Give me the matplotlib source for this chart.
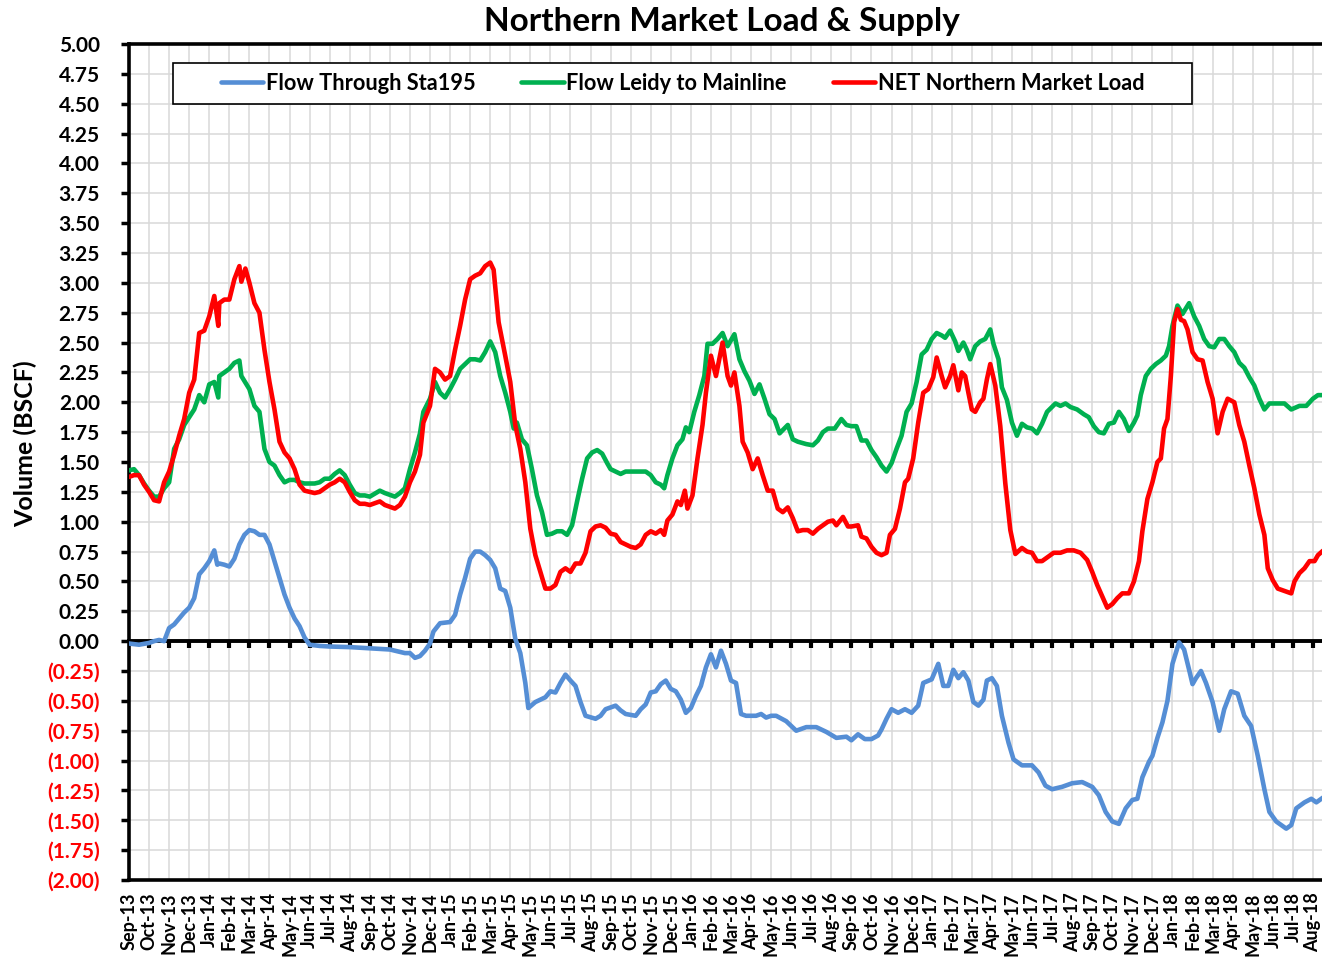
import matplotlib
matplotlib.use("Agg")
import matplotlib.pyplot as plt
from matplotlib.patches import Rectangle
import pandas as pd

FONT = "Lato"
plt.rcParams["font.family"] = [FONT, "DejaVu Sans"]
plt.rcParams["font.weight"] = "bold"

# Month axis: 0 = Sep-2013, one unit per month
month_labels = list(pd.date_range("2013-09-01", periods=60, freq="MS").strftime("%b-%y"))

# Flow Through Sta195 (BSCF)
sta195_m = [0, 0.5, 1, 1.25, 1.5, 1.75, 2, 2.25, 2.5, 2.75, 3, 3.25, 3.5, 3.75, 4, 4.25, 4.4, 4.5, 4.75, 5,
            5.25, 5.5, 5.75, 6, 6.25, 6.5, 6.75, 7, 7.25, 7.5, 7.75, 8, 8.25, 8.5, 8.75, 9, 9.5, 10, 11, 12,
            13, 13.25, 13.75, 14, 14.25, 14.5, 14.75, 15, 15.17, 15.5, 16, 16.25, 16.5, 16.75, 17, 17.25, 17.5,
            17.75, 18, 18.25, 18.5, 18.75, 19, 19.25, 19.5, 19.75, 19.9, 20.25, 20.75, 21, 21.25, 21.5, 21.75,
            22, 22.25, 22.5, 22.75, 23.25, 23.5, 23.75, 24.25, 24.5, 24.75, 25.25, 25.5, 25.75, 26, 26.25, 26.5,
            26.75, 27, 27.25, 27.5, 27.75, 28, 28.25, 28.5, 28.75, 29, 29.25, 29.5, 29.75, 30, 30.25, 30.5,
            30.75, 31.25, 31.5, 31.75, 32, 32.25, 32.75, 33.25, 33.75, 34.25, 34.75, 35.25, 35.75, 36, 36.33,
            36.67, 37, 37.33, 37.5, 37.75, 38, 38.33, 38.67, 39, 39.33, 39.58, 40, 40.33, 40.58, 40.83, 41.08,
            41.33, 41.58, 41.83, 42.08, 42.33, 42.58, 42.75, 43, 43.25, 43.5, 43.83, 44.08, 44.5, 45, 45.33,
            45.67, 46, 46.5, 47, 47.5, 48, 48.33, 48.67, 49, 49.33, 49.67, 50, 50.25, 50.5, 50.83, 51, 51.25,
            51.5, 51.75, 52, 52.33, 52.58, 52.83, 53, 53.17, 53.42, 53.67, 54, 54.33, 54.58, 54.92, 55.25,
            55.58, 55.92, 56.25, 56.58, 56.83, 57.17, 57.67, 57.92, 58.17, 58.58, 58.92, 59.17, 59.5]
sta195_v = [-0.02, -0.03, -0.015, 0.0, 0.01, 0.0, 0.11, 0.14, 0.19, 0.24, 0.28, 0.36, 0.56, 0.61, 0.67, 0.76,
            0.64, 0.65, 0.64, 0.625, 0.69, 0.81, 0.89, 0.93, 0.92, 0.89, 0.89, 0.81, 0.67, 0.53, 0.39, 0.28,
            0.19, 0.125, 0.03, -0.03, -0.04, -0.045, -0.05, -0.06, -0.07, -0.08, -0.10, -0.10, -0.14, -0.125,
            -0.08, -0.02, 0.08, 0.15, 0.16, 0.22, 0.39, 0.53, 0.69, 0.75, 0.75, 0.72, 0.68, 0.61, 0.44, 0.42,
            0.28, 0.02, -0.10, -0.35, -0.56, -0.51, -0.47, -0.42, -0.43, -0.35, -0.28, -0.33, -0.375, -0.51,
            -0.625, -0.65, -0.625, -0.57, -0.54, -0.58, -0.61, -0.625, -0.57, -0.53, -0.43, -0.42, -0.36,
            -0.33, -0.40, -0.42, -0.49, -0.60, -0.56, -0.46, -0.375, -0.22, -0.11, -0.22, -0.08, -0.19, -0.33,
            -0.35, -0.61, -0.625, -0.625, -0.61, -0.64, -0.625, -0.625, -0.67, -0.75, -0.72, -0.72, -0.76,
            -0.81, -0.80, -0.83, -0.78, -0.82, -0.82, -0.79, -0.74, -0.65, -0.57, -0.60, -0.57, -0.60, -0.54,
            -0.35, -0.32, -0.19, -0.375, -0.375, -0.24, -0.31, -0.26, -0.33, -0.51, -0.54, -0.49, -0.33,
            -0.31, -0.375, -0.625, -0.85, -0.99, -1.04, -1.04, -1.10, -1.21, -1.24, -1.22, -1.19, -1.18,
            -1.22, -1.29, -1.43, -1.51, -1.53, -1.40, -1.33, -1.32, -1.14, -1.01, -0.96, -0.81, -0.68, -0.50,
            -0.19, -0.01, -0.07, -0.24, -0.36, -0.31, -0.25, -0.35, -0.51, -0.75, -0.57, -0.42, -0.44, -0.625,
            -0.71, -0.96, -1.24, -1.43, -1.51, -1.57, -1.54, -1.40, -1.35, -1.32, -1.35, -1.31]

# Flow Leidy to Mainline (BSCF)
leidy_m = [0, 0.25, 0.5, 0.75, 1, 1.25, 1.5, 1.75, 2, 2.25, 2.5, 2.75, 3, 3.25, 3.5, 3.75, 4, 4.25, 4.45, 4.5,
           4.75, 5, 5.25, 5.5, 5.6, 6, 6.25, 6.5, 6.75, 7, 7.25, 7.5, 7.75, 8, 8.25, 8.5, 8.75, 9, 9.25, 9.5,
           9.75, 10, 10.25, 10.5, 10.75, 11, 11.25, 11.5, 11.75, 12, 12.5, 12.75, 13.25, 13.5, 13.75, 14, 14.25,
           14.5, 14.67, 15, 15.25, 15.5, 15.75, 16, 16.25, 16.5, 16.75, 17, 17.25, 17.5, 17.75, 18, 18.25,
           18.5, 18.75, 19, 19.17, 19.33, 19.58, 19.83, 20.08, 20.33, 20.58, 20.83, 21.08, 21.33, 21.58,
           21.83, 22.08, 22.33, 22.58, 22.83, 23.08, 23.33, 23.58, 23.83, 24, 24.25, 24.5, 24.75, 25.25,
           25.75, 26, 26.25, 26.5, 26.67, 26.83, 27.08, 27.33, 27.58, 27.75, 27.92, 28.17, 28.42, 28.67,
           28.83, 29.08, 29.33, 29.58, 29.83, 30.17, 30.42, 30.67, 30.92, 31.17, 31.42, 31.67, 31.92, 32.17,
           32.42, 32.83, 33.08, 33.33, 33.75, 34.08, 34.33, 34.58, 34.83, 35.17, 35.5, 35.75, 36, 36.25,
           36.5, 36.75, 37, 37.25, 37.5, 37.75, 38, 38.25, 38.5, 38.75, 39, 39.25, 39.5, 39.75, 40, 40.25,
           40.5, 40.67, 40.92, 41.17, 41.33, 41.58, 41.75, 41.92, 42.17, 42.42, 42.67, 42.92, 43.08, 43.33,
           43.5, 43.75, 44, 44.25, 44.5, 44.75, 45, 45.25, 45.5, 45.75, 46.17, 46.42, 46.67, 46.92, 47.25,
           47.58, 47.83, 48.08, 48.33, 48.58, 48.83, 49.08, 49.33, 49.58, 49.83, 50.08, 50.25, 50.42, 50.67,
           50.92, 51.17, 51.42, 51.67, 51.83, 52, 52.25, 52.5, 52.83, 53.08, 53.33, 53.58, 53.83, 54.08,
           54.33, 54.58, 54.83, 55.08, 55.33, 55.58, 55.83, 56.08, 56.33, 56.58, 56.83, 57.25, 57.58, 57.92,
           58.33, 58.67, 59, 59.25, 59.52]
leidy_v = [1.43, 1.44, 1.39, 1.32, 1.26, 1.21, 1.21, 1.28, 1.33, 1.61, 1.69, 1.81, 1.875, 1.94, 2.06, 2.0, 2.15,
           2.17, 2.04, 2.22, 2.25, 2.28, 2.33, 2.35, 2.22, 2.11, 1.97, 1.92, 1.61, 1.5, 1.47, 1.39, 1.33, 1.35,
           1.35, 1.33, 1.32, 1.32, 1.32, 1.33, 1.36, 1.36, 1.40, 1.43, 1.39, 1.31, 1.24, 1.22, 1.22, 1.21, 1.26,
           1.24, 1.21, 1.24, 1.28, 1.44, 1.58, 1.74, 1.92, 2.03, 2.17, 2.08, 2.04, 2.11, 2.19, 2.28, 2.32, 2.36,
           2.36, 2.35, 2.42, 2.51, 2.42, 2.22, 2.08, 1.92, 1.78, 1.83, 1.69, 1.64, 1.44, 1.22, 1.08, 0.89, 0.90,
           0.92, 0.92, 0.89, 0.97, 1.17, 1.36, 1.53, 1.58, 1.60, 1.57, 1.49, 1.44, 1.42, 1.40, 1.42, 1.42, 1.42,
           1.39, 1.33, 1.31, 1.28, 1.39, 1.53, 1.64, 1.69, 1.79, 1.75, 1.92, 2.06, 2.22, 2.49, 2.49, 2.53, 2.58,
           2.47, 2.57, 2.36, 2.26, 2.18, 2.07, 2.15, 2.03, 1.90, 1.86, 1.74, 1.81, 1.69, 1.67, 1.65, 1.64, 1.68,
           1.75, 1.78, 1.78, 1.86, 1.81, 1.80, 1.80, 1.68, 1.68, 1.60, 1.54, 1.47, 1.42, 1.49, 1.61, 1.72, 1.92,
           1.99, 2.17, 2.40, 2.44, 2.53, 2.58, 2.56, 2.54, 2.60, 2.51, 2.43, 2.50, 2.44, 2.36, 2.47, 2.51, 2.53,
           2.61, 2.49, 2.36, 2.125, 2.02, 1.83, 1.72, 1.82, 1.79, 1.78, 1.74, 1.82, 1.92, 1.99, 1.97, 1.99, 1.96,
           1.94, 1.90, 1.875, 1.80, 1.75, 1.74, 1.82, 1.83, 1.92, 1.86, 1.76, 1.83, 1.89, 2.06, 2.22, 2.28,
           2.32, 2.35, 2.39, 2.47, 2.64, 2.81, 2.74, 2.83, 2.72, 2.64, 2.53, 2.47, 2.46, 2.53, 2.53, 2.47, 2.42,
           2.33, 2.29, 2.21, 2.14, 2.03, 1.94, 1.99, 1.99, 1.99, 1.94, 1.97, 1.97, 2.03, 2.06, 2.06]

# NET Northern Market Load (BSCF)
load_m = [0, 0.25, 0.5, 0.75, 1, 1.25, 1.5, 1.75, 2, 2.25, 2.5, 2.75, 3, 3.25, 3.5, 3.75, 4, 4.25, 4.45, 4.5,
          4.75, 5, 5.25, 5.5, 5.6, 5.8, 6, 6.25, 6.5, 6.75, 7, 7.25, 7.5, 7.75, 8, 8.25, 8.5, 8.75, 9, 9.25,
          9.5, 9.75, 10, 10.25, 10.5, 10.75, 11, 11.25, 11.5, 11.75, 12, 12.5, 12.75, 13.25, 13.5, 13.75, 14,
          14.25, 14.5, 14.67, 15, 15.25, 15.5, 15.75, 16, 16.25, 16.5, 16.75, 17, 17.25, 17.5, 17.75, 18,
          18.17, 18.42, 18.75, 19, 19.25, 19.5, 19.75, 20, 20.25, 20.5, 20.75, 21, 21.25, 21.5, 21.75, 22,
          22.25, 22.5, 22.75, 23, 23.25, 23.5, 23.75, 24, 24.25, 24.5, 24.75, 25, 25.25, 25.5, 25.75, 26,
          26.25, 26.5, 26.67, 26.83, 27.08, 27.33, 27.5, 27.7, 27.83, 28.08, 28.33, 28.58, 28.75, 29, 29.25,
          29.58, 29.83, 30, 30.17, 30.42, 30.58, 30.83, 31.08, 31.33, 31.58, 31.83, 32.08, 32.33, 32.58,
          32.83, 33.08, 33.33, 33.58, 33.83, 34.08, 34.33, 34.58, 34.83, 35.08, 35.25, 35.58, 35.83, 36,
          36.33, 36.5, 36.75, 37, 37.25, 37.5, 37.75, 37.92, 38.17, 38.42, 38.67, 38.83, 39.08, 39.33, 39.58,
          39.83, 40.08, 40.25, 40.5, 40.67, 40.92, 41.08, 41.33, 41.5, 41.67, 41.83, 42, 42.17, 42.42, 42.58,
          42.75, 42.92, 43.17, 43.42, 43.67, 43.92, 44.17, 44.5, 44.75, 45, 45.25, 45.5, 45.75, 46.08, 46.42,
          46.75, 47.08, 47.42, 47.75, 48, 48.25, 48.5, 48.75, 49, 49.25, 49.5, 49.83, 50.08, 50.33, 50.5,
          50.75, 51, 51.25, 51.42, 51.58, 51.75, 51.92, 52.08, 52.25, 52.42, 52.58, 52.75, 53, 53.25, 53.5,
          53.75, 54, 54.25, 54.5, 54.75, 55.08, 55.33, 55.58, 55.83, 56.08, 56.33, 56.58, 56.75, 57, 57.25,
          57.58, 57.92, 58.08, 58.33, 58.58, 58.83, 59.08, 59.25, 59.52]
load_v = [1.375, 1.39, 1.39, 1.31, 1.25, 1.18, 1.17, 1.33, 1.42, 1.56, 1.72, 1.86, 2.08, 2.19, 2.58, 2.6, 2.72,
          2.89, 2.64, 2.83, 2.86, 2.86, 3.03, 3.14, 3.01, 3.12, 3.0, 2.83, 2.75, 2.44, 2.17, 1.94, 1.67, 1.58,
          1.53, 1.44, 1.31, 1.26, 1.25, 1.24, 1.25, 1.28, 1.31, 1.33, 1.36, 1.33, 1.25, 1.18, 1.15, 1.15, 1.14,
          1.17, 1.14, 1.11, 1.14, 1.21, 1.33, 1.42, 1.56, 1.83, 1.97, 2.28, 2.25, 2.19, 2.22, 2.44, 2.64, 2.86,
          3.03, 3.06, 3.08, 3.14, 3.17, 3.11, 2.67, 2.39, 2.17, 1.81, 1.61, 1.33, 0.94, 0.72, 0.58, 0.44, 0.44,
          0.47, 0.58, 0.61, 0.58, 0.65, 0.65, 0.74, 0.92, 0.96, 0.97, 0.95, 0.90, 0.89, 0.83, 0.81, 0.79, 0.78,
          0.81, 0.89, 0.92, 0.90, 0.93, 0.89, 1.01, 1.06, 1.17, 1.14, 1.26, 1.11, 1.22, 1.53, 1.81, 2.08, 2.39,
          2.22, 2.5, 2.22, 2.14, 2.25, 1.97, 1.67, 1.58, 1.44, 1.53, 1.39, 1.26, 1.26, 1.11, 1.08, 1.12, 1.03,
          0.92, 0.93, 0.93, 0.90, 0.94, 0.97, 1.0, 1.01, 0.97, 1.04, 0.96, 0.96, 0.97, 0.875, 0.86, 0.79, 0.74,
          0.72, 0.74, 0.89, 0.94, 1.11, 1.33, 1.36, 1.53, 1.83, 2.08, 2.11, 2.21, 2.375, 2.22, 2.125, 2.22, 2.31,
          2.10, 2.25, 2.22, 2.08, 1.94, 1.92, 2.0, 2.03, 2.19, 2.32, 2.14, 1.8, 1.32, 0.93, 0.73, 0.78, 0.75,
          0.74, 0.67, 0.67, 0.70, 0.74, 0.74, 0.76, 0.76, 0.74, 0.68, 0.58, 0.47, 0.375, 0.28, 0.31, 0.36, 0.40,
          0.40, 0.50, 0.67, 0.92, 1.19, 1.33, 1.50, 1.53, 1.78, 1.86, 2.22, 2.67, 2.78, 2.69, 2.68, 2.61, 2.42,
          2.36, 2.35, 2.17, 2.03, 1.74, 1.92, 2.03, 2.0, 1.81, 1.67, 1.47, 1.28, 1.06, 0.89, 0.61, 0.51, 0.44,
          0.42, 0.40, 0.50, 0.57, 0.61, 0.67, 0.67, 0.72, 0.76]

series = [
    ("Flow Through Sta195", sta195_m, sta195_v, "#558ED5"),
    ("Flow Leidy to Mainline", leidy_m, leidy_v, "#00B050"),
    ("NET Northern Market Load", load_m, load_v, "#FF0000"),
]

y_ticks = [i * 0.25 for i in range(-8, 21)]

W, H = 1322, 957
fig = plt.figure(figsize=(W / 100, H / 100), dpi=100)
ax = fig.add_axes([129 / W, 77 / H, 1204 / W, 836 / H])

for name, xs, ys, color in series:
    ax.plot(xs, ys, color=color, lw=3.3, label=name, zorder=3, solid_capstyle="round",
            solid_joinstyle="round")

ax.set_xlim(0, 60)
ax.set_ylim(-2, 5)

# month grid and labels
ax.set_xticks(range(len(month_labels)))
ax.set_xticklabels(month_labels, rotation=90, fontsize=13, fontweight="bold")
ax.tick_params(axis="x", length=0, pad=9)
ax.set_yticks(y_ticks)
ax.set_yticklabels([f"{v:.2f}" if v >= 0 else f"({abs(v):.2f})" for v in y_ticks],
                   fontsize=15, fontweight="bold")
for lbl, v in zip(ax.get_yticklabels(), y_ticks):
    if v < 0:
        lbl.set_color("#FF0000")
ax.tick_params(axis="y", direction="out", length=6, width=2.5, pad=15)
ax.grid(True, color="#D9D9D9", lw=1.1, zorder=0)
ax.set_axisbelow(True)

for side in ("left", "top", "bottom"):
    ax.spines[side].set_linewidth(2.6)
ax.spines["right"].set_visible(False)

# horizontal axis line through zero, with month tick marks
zero_axis = ax.secondary_xaxis(2 / 7)
zero_axis.set_xticks(range(1, len(month_labels)))
zero_axis.tick_params(axis="x", direction="out", length=5, width=3, labelbottom=False, labeltop=False)
zero_axis.spines["bottom"].set_linewidth(2.8)
zero_axis.set_zorder(2.5)

# legend box
ax.add_patch(Rectangle((44 / 1204, 776 / 836), 1019 / 1204, 41 / 836, transform=ax.transAxes,
                       facecolor="white", edgecolor="black", lw=1.2, zorder=4))
leg = ax.legend(loc="center", bbox_to_anchor=(0.4597, 0.9527), ncol=3, frameon=False,
                handlelength=1.95, handletextpad=0.12, columnspacing=2.1,
                prop={"family": FONT, "weight": "bold", "size": 15.7})
leg.set_zorder(5)

fig.text(722 / W, 1 - 21 / H, "Northern Market Load & Supply", ha="center", va="center",
         fontsize=24, fontweight="bold")
fig.text(25 / W, 1 - 444 / H, "Volume (BSCF)", rotation=90, ha="center", va="center",
         fontsize=18, fontweight="bold")

fig.savefig("out.png", dpi=100)
